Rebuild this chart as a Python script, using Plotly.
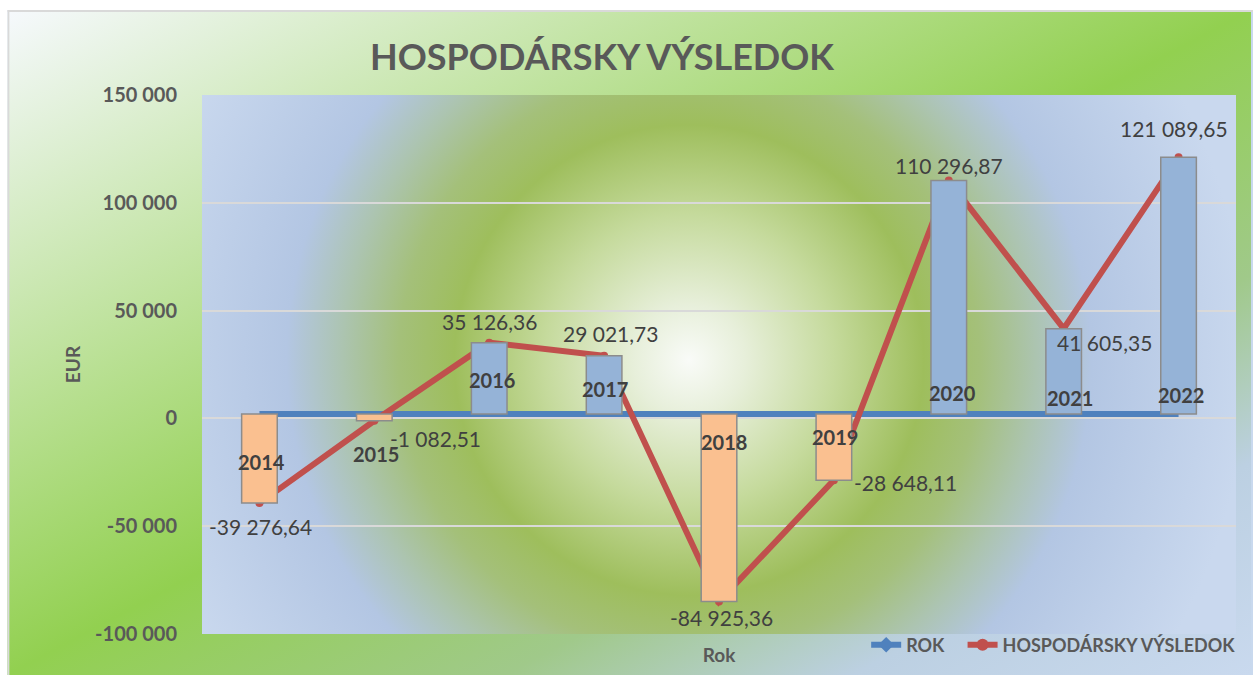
import base64
import plotly.graph_objects as go

# ---------------- data ----------------
years = ["2014", "2015", "2016", "2017", "2018", "2019", "2020", "2021", "2022"]
rok = [2014, 2015, 2016, 2017, 2018, 2019, 2020, 2021, 2022]
hv = [-39276.64, -1082.51, 35126.36, 29021.73, -84925.36, -28648.11,
      110296.87, 41605.35, 121089.65]
y_tick_vals = [-100000, -50000, 0, 50000, 100000, 150000]
y_tick_text = ["-100 000", "-50 000", "0", "50 000", "100 000", "150 000"]

# ---------------- style ----------------
W, H = 1253, 675
L, R, T, B = 202, 1238, 95, 634
PW, PH = R - L, B - T
FONT = "Lato"
BLUE_LINE = "#4f81bd"
RED_LINE = "#c0504d"
UP_FILL = "#95b3d7"
DOWN_FILL = "#fac090"

# label offsets (pixels) for value labels and year labels
val_dx = [1, 61, 0, 6, 2, 72, 0, 41, -5]
val_dy = [-23, -18, 21, 22, -16, -2, 15, -14, 29]
yr_dx = [2, 2, 3, 1, 5, 1, 4, 6, 2]
yr_dy = [-48, -40, 34, 25, -28, -23, 21, 16, 19]


def fmt(v):
    s = f"{v:,.2f}"
    return s.replace(",", " ").replace(".", ",")


def svg_uri(svg):
    return "data:image/svg+xml;base64," + base64.b64encode(svg.encode()).decode()


GW, GH = W - 7, H - 10          # visible chart-area size
OW, OH = GW + 20, GH + 20       # image size (right/bottom border pushed off-screen)
outer_svg = f"""<svg xmlns='http://www.w3.org/2000/svg' width='{OW}' height='{OH}' viewBox='0 0 {OW} {OH}' preserveAspectRatio='none'>
<defs><linearGradient id='g' x1='0' y1='0' x2='1' y2='1'>
<stop offset='0' stop-color='#f6f9fd'/>
<stop offset='0.5' stop-color='#92d050'/>
<stop offset='0.7' stop-color='#a0c98a'/>
<stop offset='0.84' stop-color='#bcd0e2'/>
<stop offset='1' stop-color='#c9d9ee'/>
</linearGradient></defs>
<rect x='0' y='0' width='{OW}' height='{OH}' fill='#c9d9ee'/>
<rect x='0' y='0' width='{GW}' height='{GH}' fill='url(#g)'/>
<line x1='1' y1='0' x2='1' y2='{OH}' stroke='#d9d9d9' stroke-width='2'/>
<line x1='0' y1='1' x2='{OW}' y2='1' stroke='#d9d9d9' stroke-width='2'/>
</svg>"""

cx, cy, rr = 488, 265, 560
plot_svg = f"""<svg xmlns='http://www.w3.org/2000/svg' width='{PW}' height='{PH}' viewBox='0 0 {PW} {PH}' preserveAspectRatio='none'>
<defs><radialGradient id='r' gradientUnits='userSpaceOnUse' cx='{cx}' cy='{cy}' r='{rr}'>
<stop offset='0' stop-color='#f9fbf8'/>
<stop offset='0.1' stop-color='#e7efda'/>
<stop offset='0.26' stop-color='#c5da9c'/>
<stop offset='0.42' stop-color='#9ebe5c'/>
<stop offset='0.52' stop-color='#a4c07a'/>
<stop offset='0.62' stop-color='#acc4b0'/>
<stop offset='0.72' stop-color='#b3c6e3'/>
<stop offset='1' stop-color='#c9d8ee'/>
</radialGradient></defs>
<rect x='0' y='0' width='{PW}' height='{PH}' fill='url(#r)'/>
</svg>"""

fig = go.Figure()

# lines (under the bars)
fig.add_trace(go.Scatter(x=years, y=rok, mode="lines", line=dict(color=BLUE_LINE, width=6),
                         showlegend=False, hoverinfo="skip", xaxis="x", yaxis="y"))
fig.add_trace(go.Scatter(x=years, y=hv, mode="lines+markers",
                         line=dict(color=RED_LINE, width=6),
                         marker=dict(symbol="circle", size=8, color=RED_LINE),
                         showlegend=False, hoverinfo="skip", xaxis="x", yaxis="y"))

# up/down bars (between ROK and HV) on overlay axes so they sit above the lines
diff = [h - r for h, r in zip(hv, rok)]
colors = [UP_FILL if d > 0 else DOWN_FILL for d in diff]
fig.add_trace(go.Bar(x=years, y=diff, base=rok, width=0.31,
                     marker=dict(color=colors, line=dict(color="#8c8c8c", width=1.5)),
                     showlegend=False, hoverinfo="skip", xaxis="x2", yaxis="y2"))

# legend-only entries
fig.add_trace(go.Scatter(x=[None], y=[None], mode="lines+markers", name="ROK\u00a0\u00a0\u00a0",
                         line=dict(color=BLUE_LINE, width=6),
                         marker=dict(symbol="diamond", size=12, color=BLUE_LINE)))
fig.add_trace(go.Scatter(x=[None], y=[None], mode="lines+markers", name="HOSPODÁRSKY VÝSLEDOK",
                         line=dict(color=RED_LINE, width=6),
                         marker=dict(symbol="circle", size=12, color=RED_LINE)))

annotations = []
for i, (yr, v, rv) in enumerate(zip(years, hv, rok)):
    annotations.append(dict(x=i, y=v, xref="x", yref="y", text=fmt(v), showarrow=False,
                            xshift=val_dx[i], yshift=val_dy[i],
                            font=dict(family=FONT, size=21, color="#404040")))
    annotations.append(dict(x=i, y=rv, xref="x", yref="y", text=f"<b>{yr}</b>", showarrow=False,
                            xshift=yr_dx[i], yshift=yr_dy[i],
                            font=dict(family=FONT, size=20, color="#404040")))

fig.update_layout(
    width=W, height=H, autosize=False,
    margin=dict(l=L, r=W - R, t=T, b=H - B, pad=0),
    paper_bgcolor="white", plot_bgcolor="rgba(0,0,0,0)",
    title=dict(text="<b>HOSPODÁRSKY VÝSLEDOK</b>", x=602 / W, xanchor="center",
               y=1 - 57 / H, yanchor="middle", font=dict(family=FONT, size=36, color="#595959")),
    xaxis=dict(type="category", categoryorder="array", categoryarray=years, range=[-0.5, 8.5],
               showticklabels=False, ticks="", showgrid=False, zeroline=False, showline=False,
               title=dict(text="<b>Rok</b>", standoff=14, font=dict(family=FONT, size=19, color="#595959"))),
    yaxis=dict(range=[-100000, 150000], tickvals=y_tick_vals, ticktext=y_tick_text,
               showgrid=True, gridcolor="#d9d9d9", gridwidth=1.5, zeroline=False, showline=False,
               ticks="outside", ticklen=20, tickcolor="rgba(0,0,0,0)",
               tickfont=dict(family=FONT, size=20, color="#595959", weight="bold"),
               title=dict(text="<b>EUR</b>", standoff=9, font=dict(family=FONT, size=19, color="#595959"))),
    xaxis2=dict(type="category", categoryorder="array", categoryarray=years, overlaying="x",
                matches="x", visible=False),
    yaxis2=dict(overlaying="y", matches="y", visible=False, range=[-100000, 150000]),
    legend=dict(orientation="h", x=1.005, xanchor="right", y=(B - 645) / PH, yanchor="middle",
                bgcolor="rgba(0,0,0,0)", font=dict(family=FONT, size=18, color="#595959", weight="bold"),
                traceorder="normal"),
    annotations=annotations,
    images=[
        dict(source=svg_uri(outer_svg), xref="paper", yref="paper",
             x=(7 - L) / PW, y=(B - 10) / PH, sizex=OW / PW, sizey=OH / PH,
             xanchor="left", yanchor="top", sizing="stretch", layer="below"),
        dict(source=svg_uri(plot_svg), xref="paper", yref="paper",
             x=0, y=1, sizex=1, sizey=1, xanchor="left", yanchor="top",
             sizing="stretch", layer="below"),
    ],
)

fig.write_html("out.html", config={"displayModeBar": False},
               post_script="document.body.style.margin='0';document.body.style.overflow='hidden';")
